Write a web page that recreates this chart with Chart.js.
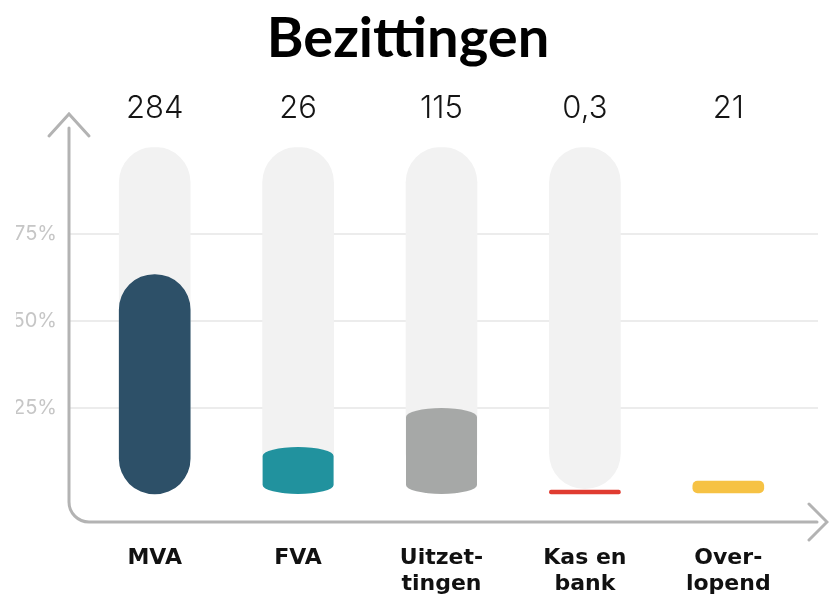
<!DOCTYPE html>
<html>
<head>
<meta charset="utf-8">
<script src="https://cdn.jsdelivr.net/npm/chart.js@4/dist/chart.umd.min.js"></script>
<style>
  html, body { margin: 0; padding: 0; background: #fff; }
  #wrap { width: 829px; height: 595px; }
</style>
</head>
<body>
<div id="wrap"><canvas id="myChart"></canvas></div>
<script>
// gegevens
const categories = ['MVA', 'FVA', ['Uitzet-', 'tingen'], ['Kas en', 'bank'], ['Over-', 'lopend']];
const amounts = ['284', '26', '115', '0,3', '21'];
const shareTop = [63.4, 13.8, 25.0, 1.4, 4.0];   // % bovenkant van de balk
const shareBase = [0.3, 0.3, 0.3, 0.3, 0.6];
const trackTop = [100, 100, 100, 100, null];
const trackBase = [1.8, 1.8, 1.8, 1.8, null];
const yTicks = [25, 50, 75];

const barColors = ['#2d5068', '#21929e', '#a6a8a7', '#e03c31', '#f6c244'];
const shapes = ['pill', 'cyl', 'cyl', 'pill', 'flat'];

//------------------------------------------------------------

// rasterlijnen + assen met pijlen
const assen = {
    id: 'assen',
    beforeDatasetsDraw(chart) {
        const {ctx, chartArea, scales: {y}} = chart;
        ctx.save();
        ctx.strokeStyle = '#ececec';
        ctx.lineWidth = 2;
        yTicks.forEach((t) => {
            const py = Math.round(y.getPixelForValue(t));
            ctx.beginPath();
            ctx.moveTo(chartArea.left - 14, py);
            ctx.lineTo(chartArea.right + 18, py);
            ctx.stroke();
        });
        ctx.restore();
    },
    afterDraw(chart) {
        const {ctx, chartArea} = chart;
        const ax = chartArea.left - 14;
        const ay = chartArea.bottom + 27;
        const r = 20;
        ctx.save();
        ctx.strokeStyle = '#b3b3b3';
        ctx.lineWidth = 3;
        ctx.lineCap = 'round';
        ctx.beginPath();
        ctx.moveTo(ax, 128);
        ctx.lineTo(ax, ay - r);
        ctx.arcTo(ax, ay, ax + r, ay, r);
        ctx.lineTo(chartArea.right + 17, ay);
        ctx.stroke();
        // pijl boven
        ctx.beginPath();
        ctx.moveTo(ax - 20, 136);
        ctx.lineTo(ax, 114);
        ctx.lineTo(ax + 20, 136);
        ctx.stroke();
        // pijl rechts
        ctx.beginPath();
        ctx.moveTo(chartArea.right + 9, ay - 18);
        ctx.lineTo(chartArea.right + 27, ay);
        ctx.lineTo(chartArea.right + 9, ay + 18);
        ctx.stroke();
        ctx.restore();
    }
};

// cilinders en bedragen boven de balken
const cilinders = {
    id: 'cilinders',
    afterDatasetsDraw(chart) {
        const ctx = chart.ctx;
        const meta = chart.getDatasetMeta(0);
        meta.data.forEach((bar, i) => {
            if (shapes[i] !== 'cyl') return;
            const {x, y, base, width} = bar.getProps(['x', 'y', 'base', 'width'], true);
            const rx = width / 2, ry = 9;
            const top = Math.min(y, base), bot = Math.max(y, base);
            ctx.save();
            ctx.fillStyle = barColors[i];
            ctx.beginPath();
            ctx.ellipse(x, top + ry, rx, ry, 0, Math.PI, 2 * Math.PI);
            ctx.lineTo(x + rx, bot - ry);
            ctx.ellipse(x, bot - ry, rx, ry, 0, 0, Math.PI);
            ctx.closePath();
            ctx.fill();
            ctx.restore();
        });

        const {chartArea, scales: {x}} = chart;
        ctx.save();
        ctx.fillStyle = '#151515';
        ctx.font = '300 31px Inter, "DejaVu Sans", sans-serif';
        ctx.textAlign = 'center';
        ctx.textBaseline = 'middle';
        amounts.forEach((a, i) => {
            ctx.fillText(a, x.getPixelForValue(i), chartArea.top - 39);
        });
        ctx.restore();
    }
};

const canvas = document.getElementById('myChart');

const config = {
    type: 'bar',
    data: {
        labels: categories,
        datasets: [
            {
                data: shareTop.map((t, i) => [shareBase[i], t]),
                backgroundColor: (c) => shapes[c.dataIndex] === 'cyl' ? 'rgba(0,0,0,0)' : barColors[c.dataIndex],
                borderRadius: (c) => shapes[c.dataIndex] === 'pill' ? 40 : (shapes[c.dataIndex] === 'flat' ? 5 : 0),
                borderSkipped: false,
                barThickness: 71,
                grouped: false
            },
            {
                data: trackTop.map((t, i) => t === null ? null : [trackBase[i], t]),
                backgroundColor: '#f2f2f2',
                borderRadius: 40,
                borderSkipped: false,
                barThickness: 71,
                grouped: false
            }
        ]
    },
    options: {
        responsive: true,
        maintainAspectRatio: false,
        animation: false,
        layout: { padding: { left: 16, right: 29, top: 0, bottom: 0 } },
        plugins: {
            legend: { display: false },
            tooltip: { enabled: false },
            title: {
                display: true,
                text: 'Bezittingen',
                color: '#000',
                font: { family: 'Lato, "Open Sans", sans-serif', size: 56, weight: 'bold', lineHeight: 1.2 },
                padding: { top: 5, bottom: 75 }
            }
        },
        scales: {
            x: {
                grid: { display: false, drawTicks: false },
                border: { display: false },
                ticks: {
                    color: '#111',
                    padding: 51,
                    font: { family: '"DejaVu Sans", sans-serif', size: 22, weight: 'bold', lineHeight: 1.15 }
                },
                afterFit: (s) => { s.height = 100; }
            },
            y: {
                min: 0,
                max: 100,
                grid: { display: false, drawTicks: false },
                border: { display: false },
                afterBuildTicks: (s) => { s.ticks = yTicks.map((v) => ({value: v})); },
                ticks: {
                    color: '#c6c6c6',
                    padding: 26,
                    font: { family: 'Inter, "DejaVu Sans", sans-serif', size: 20, weight: '400' },
                    callback: (v) => v + '%'
                },
                afterFit: (s) => { s.width = 67; }
            }
        }
    },
    plugins: [assen, cilinders]
};

const myChart = new Chart(canvas, config);
</script>
</body>
</html>
